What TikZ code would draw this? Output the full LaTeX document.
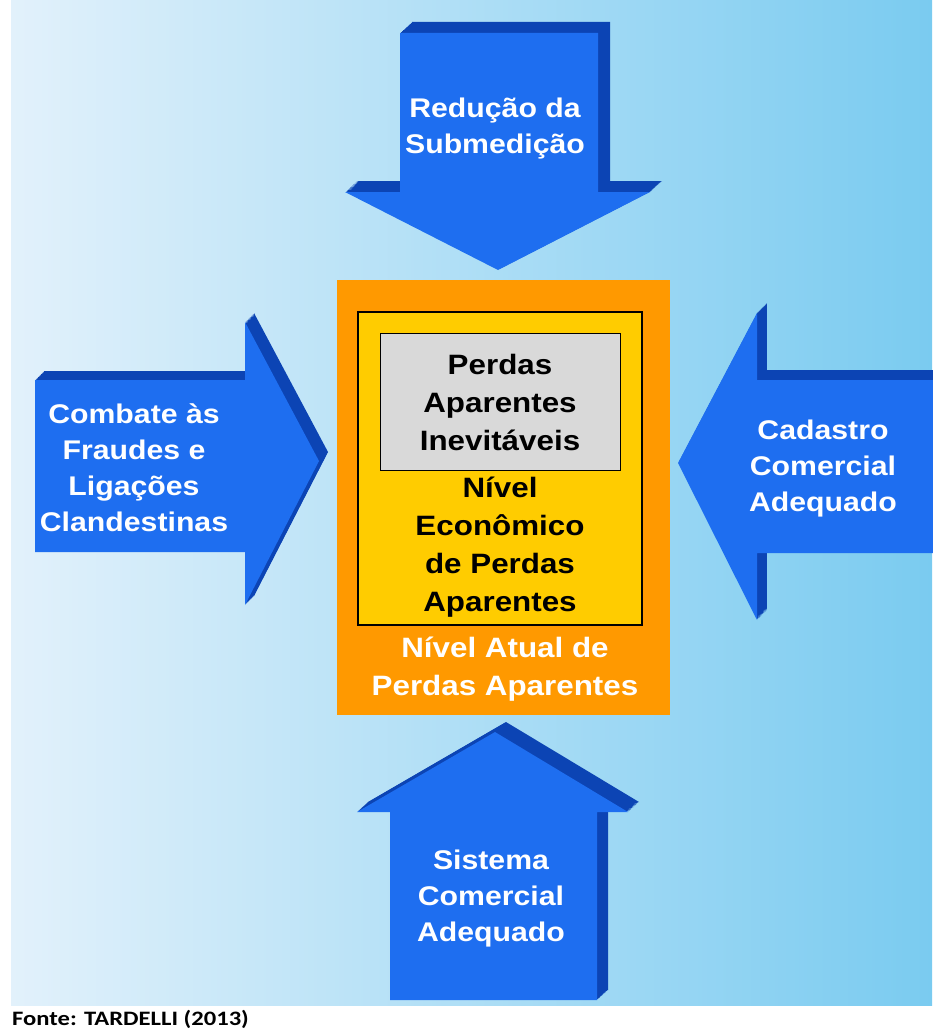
\documentclass[tikz,border=0pt]{standalone}
\usepackage{fontspec}
\newfontfamily\labelfont{Liberation Sans}[FakeStretch=1.12]
\newfontfamily\sourcefont{Carlito}[FakeStretch=1.2]

\definecolor{bgleft}{RGB}{226,241,251}
\definecolor{bgmid}{RGB}{198,229,248}
\definecolor{bgright}{RGB}{122,203,240}
\definecolor{arrowface}{RGB}{30,110,240}
\definecolor{arrowside}{RGB}{12,68,180}
\definecolor{boxorange}{RGB}{255,153,0}
\definecolor{boxyellow}{RGB}{255,204,0}
\definecolor{boxgray}{RGB}{217,217,217}

% the four block arrows (front faces), options passed in
\newcommand{\arrowdown}[1]{\fill[#1] (400,33) -- (598,33) -- (598,192) -- (650,192) -- (498,270) -- (345,192) -- (400,192) -- cycle;}
\newcommand{\arrowright}[1]{\fill[#1] (35,380) -- (245,380) -- (245,322) -- (319,461) -- (245,605) -- (245,552) -- (35,552) -- cycle;}
\newcommand{\arrowleft}[1]{\fill[#1] (678,463) -- (757,313) -- (757,380) -- (945,380) -- (945,553) -- (757,553) -- (757,620) -- cycle;}
\newcommand{\arrowup}[1]{\fill[#1] (495,732) -- (628,812) -- (597,812) -- (597,1000) -- (390,1000) -- (390,812) -- (357,812) -- cycle;}

\begin{document}
\begin{tikzpicture}[x=1pt,y=-1pt]
	\tikzstyle{armtext} = [
		text = white, align = center, inner sep = 0pt,
		font = \labelfont\bfseries\fontsize{27}{36}\selectfont
	]
	\tikzstyle{boxtext} = [
		align = center, inner sep = 0pt,
		font = \labelfont\bfseries\fontsize{28}{38}\selectfont
	]
	\tikzstyle{side}=[arrowside]
	\useasboundingbox (0,0) rectangle (932,1033);
	\fill[white] (0,0) rectangle (932,1033);
	\shade[left color=bgleft, middle color=bgmid, right color=bgright] (11,0) rectangle (932,1005);

	% 3d depth of the arrows
	\foreach \k in {1,...,12} {
		\arrowdown{side, shift={(\k,-\k*11/12)}}
		\arrowright{side, shift={(\k*0.75,-\k*0.75)}}
		\arrowleft{side, shift={(\k*0.83,-\k*0.83)}}
		\arrowup{side, shift={(\k*11/12,-\k*10/12)}}
	}
	\arrowdown{arrowface}
	\arrowright{arrowface}
	\arrowleft{arrowface}
	\arrowup{arrowface}

	% nested boxes
	\fill[boxorange] (337,280) rectangle (670,715);
	\draw[black, line width=2.5pt, fill=boxyellow] (358,312) rectangle (642,625);
	\draw[black, line width=1pt, fill=boxgray] (380,333) rectangle (620,470);

	\node[armtext] (reducao) at (495,129) {Redução da\\Submedição};
	\node[armtext] (combate) at (134,468) {Combate às\\Fraudes e\\Ligações\\Clandestinas};
	\node[armtext] (cadastro) at (823,469) {Cadastro\\Comercial\\Adequado};
	\node[armtext] (sistema) at (491,899) {Sistema\\Comercial\\Adequado};

	\node[boxtext] (inevitaveis) at (500,402) {Perdas\\Aparentes\\Inevitáveis};
	\node[boxtext] (economico) at (500,547) {Nível\\Econômico\\de Perdas\\Aparentes};
	\node[boxtext, text=white] (atual) at (505,669) {Nível Atual de\\Perdas Aparentes};

	\node[anchor=west, inner sep=0pt, font=\sourcefont\bfseries\fontsize{20.5}{24}\selectfont] (fonte) at (12,1019) {Fonte: TARDELLI (2013)};
\end{tikzpicture}
\end{document}
